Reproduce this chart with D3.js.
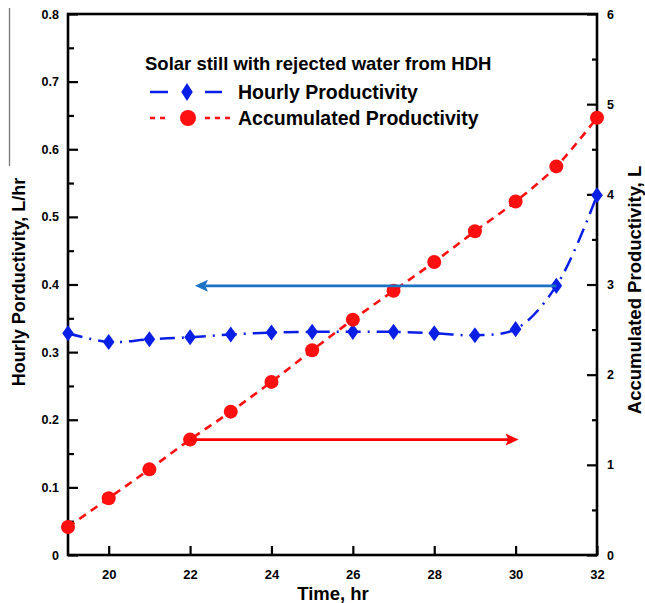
<!DOCTYPE html>
<html>
<head>
<meta charset="utf-8">
<script src="https://cdn.jsdelivr.net/npm/d3@7"></script>
<style>
  html, body { margin: 0; padding: 0; background: #fff; }
  svg { display: block; font-family: Arial, "Liberation Sans", sans-serif; }
</style>
</head>
<body>
<svg id="chart" width="645" height="603"></svg>
<script>
// Time of day (hr)
const hours = [19, 20, 21, 22, 23, 24, 25, 26, 27, 28, 29, 30, 31, 32];
// Hourly productivity, L/hr (left axis)
const hourly = [0.328, 0.315, 0.319, 0.322, 0.326, 0.329, 0.330, 0.330, 0.330, 0.328, 0.325, 0.334, 0.398, 0.532];
// Accumulated productivity, L (right axis)
const accumulated = [0.31, 0.63, 0.95, 1.28, 1.59, 1.92, 2.27, 2.61, 2.93, 3.25, 3.59, 3.92, 4.31, 4.85];

const xTicks = [20, 22, 24, 26, 28, 30, 32];
const leftTicks = [0, 0.1, 0.2, 0.3, 0.4, 0.5, 0.6, 0.7, 0.8];
const leftMinor = [0.05, 0.15, 0.25, 0.35, 0.45, 0.55, 0.65, 0.75];
const rightTicks = [0, 1, 2, 3, 4, 5, 6];
const rightMinor = [0.5, 1.5, 2.5, 3.5, 4.5, 5.5];

const legendTitle = "Solar still with rejected water from HDH";
const seriesNames = ["Hourly Productivity", "Accumulated Productivity"];

const svg = d3.select("#chart");
const L = 68, R = 597, T = 14, B = 555;

const x = d3.scaleLinear().domain([19, 32]).range([L, R]);
const yL = d3.scaleLinear().domain([0, 0.8]).range([B, T]);
const yR = d3.scaleLinear().domain([0, 6]).range([B, T]);

const blue = "#0a1fe6", red = "#ff1010", arrowBlue = "#1b72c4", arrowRed = "#ff0000";

// thin vertical rule at the far left edge
svg.append("line").attr("x1", 9.5).attr("x2", 9.5).attr("y1", 8).attr("y2", 166)
  .attr("stroke", "#777").attr("stroke-width", 1.3);

// Axes
function styleAxis(g) {
  g.select(".domain").remove();
  g.selectAll(".tick line").attr("stroke", "#000").attr("stroke-width", 2.2);
  g.selectAll(".tick text").attr("fill", "#000").attr("font-weight", "bold")
    .attr("font-family", "Arial, 'Liberation Sans', sans-serif");
}

const fmtL = d => d === 0 ? "0" : d3.format(".1f")(d);

svg.append("g").attr("transform", `translate(${L},0)`)
  .call(d3.axisLeft(yL).tickValues(leftTicks).tickFormat(fmtL).tickSize(-10).tickPadding(9))
  .call(styleAxis).selectAll("text").attr("font-size", 12.5);
svg.append("g").attr("transform", `translate(${L},0)`)
  .call(d3.axisLeft(yL).tickValues(leftMinor).tickFormat("").tickSize(-6))
  .call(styleAxis);

svg.append("g").attr("transform", `translate(${R},0)`)
  .call(d3.axisRight(yR).tickValues(rightTicks).tickFormat(d3.format("d")).tickSize(-10).tickPadding(10))
  .call(styleAxis).selectAll("text").attr("font-size", 12.5);
svg.append("g").attr("transform", `translate(${R},0)`)
  .call(d3.axisRight(yR).tickValues(rightMinor).tickFormat("").tickSize(-5))
  .call(styleAxis);

svg.append("g").attr("transform", `translate(0,${B})`)
  .call(d3.axisBottom(x).tickValues(xTicks).tickFormat(d3.format("d")).tickSize(-9).tickPadding(15))
  .call(styleAxis).selectAll("text").attr("font-size", 13);

// frame
svg.append("rect").attr("x", L).attr("y", T).attr("width", R - L).attr("height", B - T)
  .attr("fill", "none").attr("stroke", "#000").attr("stroke-width", 2.6);

// Axis titles
svg.append("text").attr("transform", "translate(19,282) rotate(-90)")
  .attr("text-anchor", "middle").attr("dominant-baseline", "central")
  .attr("font-size", 18).attr("font-weight", "bold").text("Hourly Porductivity, L/hr");
svg.append("text").attr("transform", "translate(634,290) rotate(-90)")
  .attr("text-anchor", "middle").attr("dominant-baseline", "central")
  .attr("font-size", 18.5).attr("font-weight", "bold").text("Accumulated Productivity, L");
svg.append("text").attr("x", 333).attr("y", 600).attr("text-anchor", "middle")
  .attr("font-size", 18.5).attr("font-weight", "bold").text("Time, hr");

// Series
const hourlyPts = hours.map((h, i) => [h, hourly[i]]);
const accPts = hours.map((h, i) => [h, accumulated[i]]);

const lineL = d3.line().x(d => x(d[0])).y(d => yL(d[1])).curve(d3.curveCatmullRom);
const lineR = d3.line().x(d => x(d[0])).y(d => yR(d[1])).curve(d3.curveCatmullRom);

svg.append("path").datum(hourlyPts).attr("d", lineL).attr("fill", "none")
  .attr("stroke", blue).attr("stroke-width", 2.5).attr("stroke-dasharray", "15,7,2,7");
svg.append("path").datum(accPts).attr("d", lineR).attr("fill", "none")
  .attr("stroke", red).attr("stroke-width", 2.6).attr("stroke-dasharray", "8,6");

const diamond = d3.symbol().type(d3.symbolDiamond).size(75);
svg.append("g").selectAll("path").data(hourlyPts).join("path")
  .attr("transform", d => `translate(${x(d[0])},${yL(d[1])}) scale(1.25,1)`)
  .attr("d", diamond).attr("fill", blue);

svg.append("g").selectAll("circle").data(accPts).join("circle")
  .attr("cx", d => x(d[0])).attr("cy", d => yR(d[1])).attr("r", 7).attr("fill", red);

// Annotation arrows
function arrow(x1, y1, x2, y2, color) {
  const dir = Math.sign(x2 - x1);
  const head = 13, half = 6;
  svg.append("line").attr("x1", x1).attr("y1", y1).attr("x2", x2 - dir * head * 0.8).attr("y2", y2)
    .attr("stroke", color).attr("stroke-width", 2.6);
  svg.append("path")
    .attr("d", `M${x2},${y2} L${x2 - dir * head},${y2 - half} L${x2 - dir * head * 0.8},${y2} L${x2 - dir * head},${y2 + half} Z`)
    .attr("fill", color);
}
const i22 = hours.indexOf(22), i30 = hours.indexOf(30), i31 = hours.indexOf(31);
arrow(x(hours[i31]), yL(hourly[i31]), x(22.12), yL(hourly[i31]), arrowBlue);
arrow(x(hours[i22]), yR(accumulated[i22]), x(hours[i30]) + 3, yR(accumulated[i22]), arrowRed);

// Legend
const lg = svg.append("g");
lg.append("text").attr("x", 145).attr("y", 70).attr("font-size", 18.5).attr("font-weight", "bold")
  .text(legendTitle);

lg.append("line").attr("x1", 150).attr("x2", 168).attr("y1", 92).attr("y2", 92)
  .attr("stroke", blue).attr("stroke-width", 2.5);
lg.append("line").attr("x1", 205).attr("x2", 222).attr("y1", 92).attr("y2", 92)
  .attr("stroke", blue).attr("stroke-width", 2.5);
lg.append("path").attr("transform", "translate(187,92) scale(1.1,1)")
  .attr("d", d3.symbol().type(d3.symbolDiamond).size(95)).attr("fill", blue);
lg.append("text").attr("x", 238).attr("y", 99).attr("font-size", 19.5).attr("font-weight", "bold")
  .text(seriesNames[0]);

lg.append("line").attr("x1", 150).attr("x2", 170).attr("y1", 118).attr("y2", 118)
  .attr("stroke", red).attr("stroke-width", 2.5).attr("stroke-dasharray", "5,5");
lg.append("line").attr("x1", 205).attr("x2", 232).attr("y1", 118).attr("y2", 118)
  .attr("stroke", red).attr("stroke-width", 2.5).attr("stroke-dasharray", "5,5");
lg.append("circle").attr("cx", 188).attr("cy", 118).attr("r", 8).attr("fill", red);
lg.append("text").attr("x", 238).attr("y", 125).attr("font-size", 19.5).attr("font-weight", "bold")
  .text(seriesNames[1]);
</script>
</body>
</html>
